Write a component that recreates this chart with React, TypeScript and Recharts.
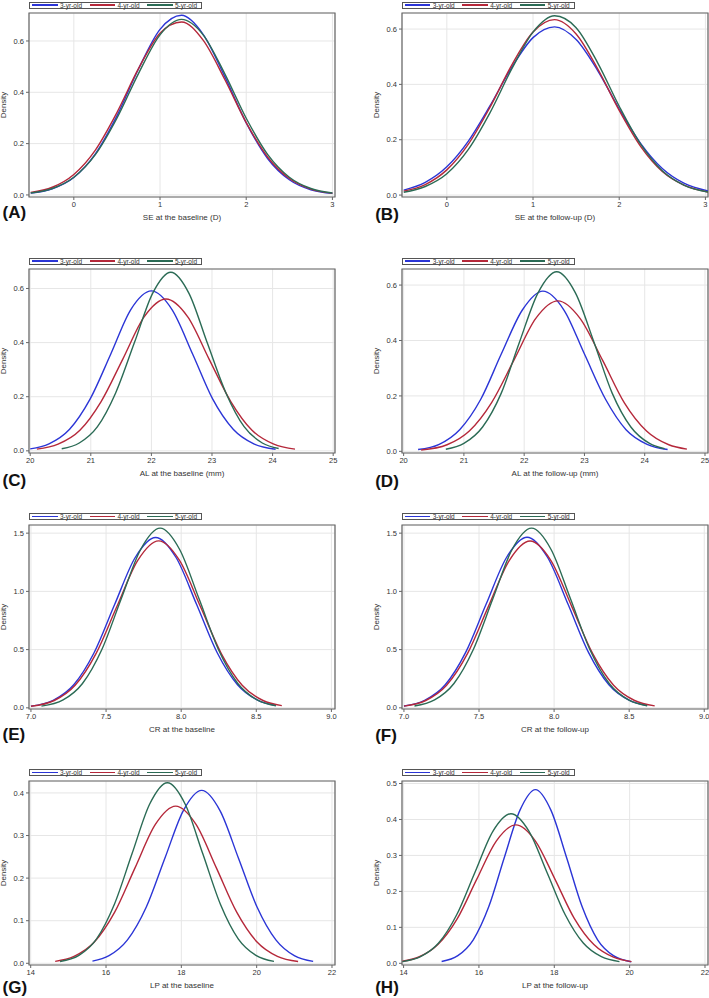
import React from 'react';
import { LineChart, Line, XAxis, YAxis, CartesianGrid, ReferenceArea } from 'recharts';

const groupNames = ['3-yr-old', '4-yr-old', '5-yr-old'];
const groupColors = ['#2b35d6', '#b5283a', '#2b6b55'];

// (A) SE at the baseline
const seBase3 = [[-0.5,0.007],[-0.25,0.024],[0,0.068],[0.25,0.160],[0.5,0.308],[0.75,0.491],[1.0,0.645],[1.25,0.700],[1.5,0.626],[1.75,0.462],[2.0,0.281],[2.25,0.141],[2.5,0.059],[2.75,0.020],[3.0,0.006]];
const seBase4 = [[-0.5,0.010],[-0.25,0.030],[0,0.080],[0.25,0.175],[0.5,0.321],[0.75,0.492],[1.0,0.630],[1.25,0.674],[1.5,0.603],[1.75,0.451],[2.0,0.282],[2.25,0.147],[2.5,0.064],[2.75,0.023],[3.0,0.007]];
const seBase5 = [[-0.5,0.0075],[-0.25,0.025],[0,0.069],[0.25,0.157],[0.5,0.299],[0.75,0.473],[1.0,0.624],[1.25,0.684],[1.5,0.624],[1.75,0.473],[2.0,0.299],[2.25,0.157],[2.5,0.069],[2.75,0.025],[3.0,0.0075]];

// (B) SE at the follow-up
const seFollow3 = [[-0.5,0.018],[-0.25,0.046],[0,0.102],[0.25,0.195],[0.5,0.322],[0.75,0.460],[1.0,0.569],[1.25,0.608],[1.5,0.562],[1.75,0.450],[2.0,0.311],[2.25,0.186],[2.5,0.096],[2.75,0.043],[3.03,0.015]];
const seFollow4 = [[-0.5,0.014],[-0.25,0.038],[0,0.091],[0.25,0.184],[0.5,0.317],[0.75,0.468],[1.0,0.589],[1.25,0.634],[1.5,0.582],[1.75,0.456],[2.0,0.306],[2.25,0.175],[2.5,0.085],[2.75,0.036],[3.03,0.011]];
const seFollow5 = [[-0.5,0.010],[-0.25,0.031],[0,0.077],[0.25,0.165],[0.5,0.297],[0.75,0.454],[1.0,0.589],[1.25,0.648],[1.5,0.605],[1.75,0.478],[2.0,0.321],[2.25,0.183],[2.5,0.088],[2.75,0.036],[3.03,0.011]];

// (C) AL at the baseline
const alBase3 = [[20.0,0.0074],[20.31,0.026],[20.65,0.080],[20.99,0.192],[21.33,0.358],[21.66,0.522],[22.0,0.591],[22.34,0.522],[22.68,0.358],[23.01,0.192],[23.35,0.080],[23.69,0.026],[24.05,0.006]];
const alBase4 = [[20.11,0.0062],[20.46,0.0246],[20.82,0.0759],[21.17,0.182],[21.53,0.340],[21.88,0.495],[22.24,0.561],[22.6,0.495],[22.95,0.340],[23.31,0.182],[23.66,0.0759],[24.02,0.0246],[24.37,0.0062]];
const alBase5 = [[20.52,0.0077],[20.81,0.029],[21.11,0.0893],[21.41,0.214],[21.72,0.400],[22.02,0.582],[22.32,0.660],[22.62,0.582],[22.92,0.400],[23.23,0.214],[23.53,0.0893],[23.83,0.029],[24.1,0.0085]];

// (D) AL at the follow-up
const alFollow3 = [[20.24,0.0064],[20.59,0.0254],[20.93,0.0782],[21.28,0.188],[21.62,0.351],[21.97,0.510],[22.31,0.578],[22.66,0.510],[23.0,0.351],[23.35,0.188],[23.69,0.0782],[24.04,0.0254],[24.38,0.0064]];
const alFollow4 = [[20.29,0.0046],[20.72,0.0238],[21.09,0.0735],[21.46,0.176],[21.83,0.329],[22.19,0.479],[22.56,0.543],[22.93,0.479],[23.3,0.329],[23.66,0.176],[24.03,0.0735],[24.4,0.0238],[24.7,0.0079]];
const alFollow5 = [[20.7,0.0074],[21.0,0.0284],[21.31,0.0877],[21.62,0.210],[21.92,0.393],[22.23,0.572],[22.54,0.648],[22.85,0.572],[23.16,0.393],[23.46,0.210],[23.77,0.0877],[24.08,0.0284],[24.33,0.0094]];

// (E) CR at the baseline
const crBase3 = [[7.0,0.0144],[7.148,0.0642],[7.285,0.198],[7.421,0.475],[7.557,0.887],[7.694,1.291],[7.83,1.463],[7.966,1.291],[8.103,0.887],[8.239,0.475],[8.375,0.198],[8.512,0.0642],[8.63,0.020]];
const crBase4 = [[7.0,0.0133],[7.155,0.063],[7.294,0.194],[7.433,0.466],[7.572,0.870],[7.711,1.266],[7.85,1.434],[7.989,1.266],[8.128,0.870],[8.267,0.466],[8.406,0.194],[8.545,0.063],[8.67,0.0185]];
const crBase5 = [[7.07,0.0145],[7.214,0.0677],[7.343,0.209],[7.472,0.501],[7.601,0.936],[7.731,1.362],[7.86,1.543],[7.989,1.362],[8.119,0.936],[8.248,0.501],[8.377,0.209],[8.506,0.0677],[8.63,0.018]];

// (F) CR at the follow-up
const crFollow3 = [[7.0,0.016],[7.138,0.0643],[7.275,0.198],[7.411,0.476],[7.547,0.889],[7.684,1.293],[7.82,1.465],[7.956,1.293],[8.093,0.889],[8.229,0.476],[8.365,0.198],[8.502,0.0643],[8.62,0.0203]];
const crFollow4 = [[7.0,0.015],[7.145,0.063],[7.284,0.194],[7.423,0.465],[7.562,0.869],[7.701,1.265],[7.84,1.433],[7.979,1.265],[8.118,0.869],[8.257,0.465],[8.396,0.194],[8.536,0.063],[8.67,0.0168]];
const crFollow5 = [[7.07,0.016],[7.204,0.0677],[7.333,0.209],[7.462,0.501],[7.592,0.936],[7.721,1.362],[7.85,1.543],[7.979,1.362],[8.109,0.936],[8.238,0.501],[8.367,0.209],[8.496,0.0677],[8.62,0.018]];

// (G) LP at the baseline
const lpBase3 = [[15.64,0.0052],[16.08,0.0178],[16.57,0.0549],[17.07,0.132],[17.56,0.246],[18.05,0.358],[18.54,0.406],[19.03,0.358],[19.52,0.246],[20.01,0.132],[20.51,0.0549],[21.0,0.0178],[21.5,0.0044]];
const lpBase4 = [[14.65,0.0046],[15.15,0.0162],[15.69,0.0499],[16.23,0.120],[16.77,0.224],[17.31,0.326],[17.85,0.369],[18.39,0.326],[18.93,0.224],[19.47,0.120],[20.01,0.0499],[20.55,0.0162],[21.1,0.0041]];
const lpBase5 = [[14.78,0.0043],[15.28,0.0186],[15.75,0.0574],[16.22,0.138],[16.69,0.257],[17.16,0.374],[17.63,0.424],[18.1,0.374],[18.57,0.257],[19.04,0.138],[19.51,0.0574],[19.98,0.0186],[20.46,0.0045]];

// (H) LP at the follow-up
const lpFollow3 = [[15.01,0.0052],[15.44,0.0212],[15.85,0.0654],[16.26,0.157],[16.67,0.293],[17.09,0.426],[17.5,0.483],[17.91,0.426],[18.33,0.293],[18.74,0.157],[19.15,0.0654],[19.57,0.0212],[20.04,0.0044]];
const lpFollow4 = [[13.97,0.0057],[14.39,0.0169],[14.91,0.0521],[15.43,0.125],[15.94,0.2335],[16.46,0.340],[16.98,0.385],[17.5,0.340],[18.02,0.2335],[18.53,0.125],[19.05,0.0521],[19.57,0.0169],[20.05,0.0048]];
const lpFollow5 = [[13.97,0.0046],[14.45,0.0183],[14.93,0.0563],[15.41,0.135],[15.89,0.252],[16.37,0.367],[16.85,0.416],[17.33,0.367],[17.81,0.252],[18.29,0.135],[18.77,0.0563],[19.25,0.0183],[19.73,0.0046]];

// tick labels
const seTicks = [0, 1, 2, 3];
const alTicks = [20, 21, 22, 23, 24, 25];
const crTicks = [7.0, 7.5, 8.0, 8.5, 9.0];
const lpTicks = [14, 16, 18, 20, 22];
const densTicksSE = [0, 0.2, 0.4, 0.6];
const densTicksCR = [0, 0.5, 1.0, 1.5];
const densTicksLPb = [0, 0.1, 0.2, 0.3, 0.4];
const densTicksLPf = [0, 0.1, 0.2, 0.3, 0.4, 0.5];

const toPts = (a: number[][]) => a.map(([x, y]) => ({ x, y }));

type PanelCfg = {
  letter: string;
  xLabel: string;
  series: number[][][];
  xDomain: [number, number];
  xTicks: number[];
  xDec: number;
  yDomain: [number, number];
  yTicks: number[];
  col: number;
  row: number;
  letterY: number;
};

const panels: PanelCfg[] = [
  { letter: '(A)', xLabel: 'SE at the baseline (D)', series: [seBase3, seBase4, seBase5], xDomain: [-0.52, 3.03], xTicks: seTicks, xDec: 0, yDomain: [-0.008, 0.709], yTicks: densTicksSE, col: 0, row: 0, letterY: 213 },
  { letter: '(B)', xLabel: 'SE at the follow-up (D)', series: [seFollow3, seFollow4, seFollow5], xDomain: [-0.52, 3.03], xTicks: seTicks, xDec: 0, yDomain: [-0.007, 0.658], yTicks: densTicksSE, col: 1, row: 0, letterY: 215 },
  { letter: '(C)', xLabel: 'AL at the baseline (mm)', series: [alBase3, alBase4, alBase5], xDomain: [19.98, 25.03], xTicks: alTicks, xDec: 0, yDomain: [-0.008, 0.672], yTicks: densTicksSE, col: 0, row: 1, letterY: 481 },
  { letter: '(D)', xLabel: 'AL at the follow-up (mm)', series: [alFollow3, alFollow4, alFollow5], xDomain: [19.973, 25.05], xTicks: alTicks, xDec: 0, yDomain: [-0.006, 0.658], yTicks: densTicksSE, col: 1, row: 1, letterY: 482 },
  { letter: '(E)', xLabel: 'CR at the baseline', series: [crBase3, crBase4, crBase5], xDomain: [6.987, 9.024], xTicks: crTicks, xDec: 1, yDomain: [-0.01, 1.57], yTicks: densTicksCR, col: 0, row: 2, letterY: 735 },
  { letter: '(F)', xLabel: 'CR at the follow-up', series: [crFollow3, crFollow4, crFollow5], xDomain: [6.987, 9.025], xTicks: crTicks, xDec: 1, yDomain: [-0.01, 1.57], yTicks: densTicksCR, col: 1, row: 2, letterY: 736 },
  { letter: '(G)', xLabel: 'LP at the baseline', series: [lpBase3, lpBase4, lpBase5], xDomain: [13.955, 22.08], xTicks: lpTicks, xDec: 0, yDomain: [-0.004, 0.428], yTicks: densTicksLPb, col: 0, row: 3, letterY: 988 },
  { letter: '(H)', xLabel: 'LP at the follow-up', series: [lpFollow3, lpFollow4, lpFollow5], xDomain: [13.958, 22.08], xTicks: lpTicks, xDec: 0, yDomain: [-0.0047, 0.507], yTicks: densTicksLPf, col: 1, row: 3, letterY: 988 },
];

const FONT = '"Liberation Sans", Arial, Helvetica, sans-serif';
const COL_LEFT = [0, 372.7];
const FRAME_TOP = [13, 269, 524.5, 780.5];
const PLOT_W = 306;
const PLOT_H = 184;
const Y_W = 29;
const TOP_M = 13;
const X_H = 45;
const CHART_W = 342;
const CHART_H = TOP_M + PLOT_H + X_H;
const TEXT_COLOR = '#333';
const FRAME_COLOR = '#666';

function LegendBox({ left, top }: { left: number; top: number }) {
  return (
    <div
      style={{
        position: 'absolute',
        left,
        top,
        width: 173,
        height: 7,
        boxSizing: 'border-box',
        border: '1px solid #555',
        fontFamily: FONT,
        fontSize: 6.5,
        color: TEXT_COLOR,
        background: '#fff',
      }}
    >
      {groupNames.map((name, i) => (
        <React.Fragment key={name}>
          <div style={{ position: 'absolute', left: 2 + i * 57.5, top: 1.8, width: 25.5, height: 1.6, background: groupColors[i] }} />
          <div style={{ position: 'absolute', left: 30 + i * 57.5, top: -1, lineHeight: '7px', whiteSpace: 'nowrap' }}>{name}</div>
        </React.Fragment>
      ))}
    </div>
  );
}

function Panel({ cfg }: { cfg: PanelCfg }) {
  const left = COL_LEFT[cfg.col];
  const frameTop = FRAME_TOP[cfg.row];
  const top = frameTop - TOP_M;
  const fmtX = (v: number) => v.toFixed(cfg.xDec);
  const fmtY = (v: number) => v.toFixed(1);
  return (
    <>
      <div style={{ position: 'absolute', left, top, width: CHART_W, height: CHART_H }}>
        <LineChart
          width={CHART_W}
          height={CHART_H}
          margin={{ top: TOP_M, right: CHART_W - Y_W - PLOT_W, bottom: 0, left: 0 }}
        >
          <CartesianGrid stroke="#e6e6e6" strokeWidth={1} />
          <XAxis
            type="number"
            dataKey="x"
            domain={cfg.xDomain}
            ticks={cfg.xTicks}
            allowDataOverflow
            interval={0}
            height={X_H}
            tickSize={3}
            tickMargin={2}
            axisLine={false}
            tickLine={{ stroke: FRAME_COLOR }}
            tick={{ fontSize: 7.5, fill: TEXT_COLOR, fontFamily: FONT }}
            tickFormatter={fmtX}
            label={{ value: cfg.xLabel, position: 'insideTop', offset: 17, style: { fontSize: 8, fill: TEXT_COLOR, fontFamily: FONT } }}
          />
          <YAxis
            type="number"
            domain={cfg.yDomain}
            ticks={cfg.yTicks}
            allowDataOverflow
            interval={0}
            width={Y_W}
            tickSize={3}
            tickMargin={2}
            axisLine={false}
            tickLine={{ stroke: FRAME_COLOR }}
            tick={{ fontSize: 7.5, fill: TEXT_COLOR, fontFamily: FONT }}
            tickFormatter={fmtY}
            label={{ value: 'Density', angle: -90, position: 'insideLeft', offset: 3.5, style: { textAnchor: 'middle', fontSize: 8, fill: TEXT_COLOR, fontFamily: FONT } }}
          />
          <ReferenceArea
            x1={cfg.xDomain[0]}
            x2={cfg.xDomain[1]}
            y1={cfg.yDomain[0]}
            y2={cfg.yDomain[1]}
            fill="none"
            fillOpacity={0}
            stroke={FRAME_COLOR}
            strokeWidth={1.2}
            ifOverflow="visible"
          />
          {cfg.series.map((s, i) => (
            <Line
              key={groupNames[i]}
              data={toPts(s)}
              dataKey="y"
              name={groupNames[i]}
              type="monotone"
              stroke={groupColors[i]}
              strokeWidth={1.4}
              dot={false}
              activeDot={false}
              isAnimationActive={false}
            />
          ))}
        </LineChart>
      </div>
      <LegendBox left={left + Y_W} top={frameTop - 11.5} />
      <div
        style={{
          position: 'absolute',
          left: left + 2.5,
          top: cfg.letterY - 10,
          fontFamily: FONT,
          fontWeight: 'bold',
          fontSize: 17,
          lineHeight: '20px',
          color: '#111',
        }}
      >
        {cfg.letter}
      </div>
    </>
  );
}

export default function App() {
  return (
    <div
      style={{
        position: 'absolute',
        left: 0,
        top: 0,
        width: 709,
        height: 998,
        overflow: 'hidden',
        background: '#fff',
      }}
    >
      {panels.map((p) => (
        <Panel key={p.letter} cfg={p} />
      ))}
    </div>
  );
}
